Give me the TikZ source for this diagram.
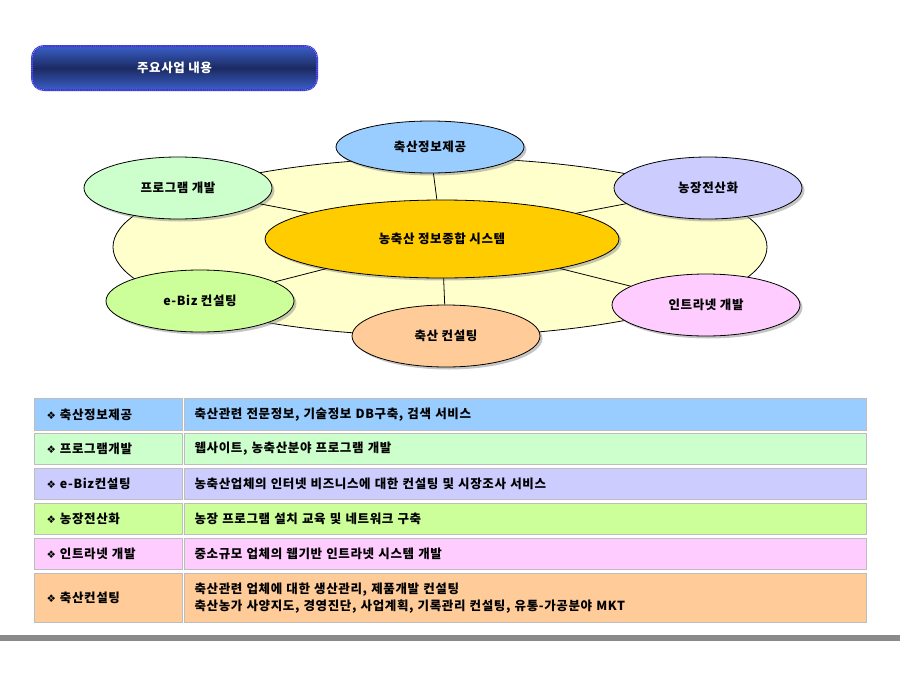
\documentclass[tikz,border=0pt]{standalone}
\usepackage{fontspec}
\setmainfont{Noto Sans CJK KR}[LetterSpace=5]
\newfontfamily\symfont{DejaVu Sans}
\usepackage{tikz}
\usetikzlibrary{shapes.geometric,shadows}

\definecolor{cblue}{HTML}{99CCFF}
\definecolor{cgreen}{HTML}{CCFFCC}
\definecolor{clav}{HTML}{CCCCFF}
\definecolor{clime}{HTML}{CCFF99}
\definecolor{cpink}{HTML}{FFCCFF}
\definecolor{cpeach}{HTML}{FFCC99}
\definecolor{cgold}{HTML}{FFCC00}
\definecolor{ccream}{HTML}{FFFFCC}
\definecolor{tbtop}{HTML}{3A5FC8}
\definecolor{tbmid}{HTML}{1B2A62}
\definecolor{tbedge}{HTML}{3333CC}
\definecolor{tbdot}{HTML}{8C8CFF}
\definecolor{cellline}{HTML}{BDBDBD}
\definecolor{barline}{HTML}{8A8A8A}

\tikzset{
  oval/.style={ellipse, draw=black, line width=0.8pt, inner sep=0pt,
    minimum width=188pt, minimum height=62pt,
    drop shadow={shadow xshift=2.5pt, shadow yshift=-2.5pt, fill=black!45},
    font=\fontsize{12.5}{14}\selectfont\bfseries},
  lcell/.style={rectangle, draw=cellline, line width=1pt, anchor=north west,
    inner xsep=12pt, text width=124pt, align=left,
    font=\fontsize{12.5}{14}\selectfont\bfseries},
  rcell/.style={rectangle, draw=cellline, line width=1pt, anchor=north west,
    inner xsep=10pt, text width=662pt, align=left,
    font=\fontsize{12.5}{17}\selectfont\bfseries},
}
\newcommand{\dia}{{\symfont\fontsize{10.5}{11}\selectfont ❖}\hspace{4pt}}

\begin{document}
\begin{tikzpicture}[x=1pt,y=-1pt]
\useasboundingbox (0,0) rectangle (900,675);

% title button
\node[rectangle, rounded corners=12pt, minimum width=285pt, minimum height=44pt,
  draw=tbedge, line width=2pt, top color=tbtop, bottom color=tbtop, middle color=tbmid,
  postaction={draw=tbdot, densely dotted, line width=0.9pt},
  text=white, font=\fontsize{12.5}{14}\selectfont\bfseries] (title) at (174.5,68) {주요사업 내용};

% diagram
\node[ellipse, draw=black, line width=0.8pt, fill=ccream, minimum width=654pt, minimum height=178pt] (big) at (440,247) {};

\node[oval, fill=cgold, minimum width=354pt, minimum height=78pt] (cen) at (442,239) {농축산 정보종합 시스템};
\node[oval, fill=cblue, minimum height=52pt] (info) at (430,147) {축산정보제공};
\node[oval, fill=cgreen] (prog) at (178,188) {프로그램 개발};
\node[oval, fill=clav] (farm) at (708,188) {농장전산화};
\node[oval, fill=clime] (ebiz) at (200,301) {e-Biz 컨설팅};
\node[oval, fill=cpink] (intra) at (706,305) {인트라넷 개발};
\node[oval, fill=cpeach] (cons) at (446,336) {축산 컨설팅};

\draw[line width=0.8pt] (info) -- (cen);
\draw[line width=0.8pt] (cons) -- (cen);
\draw[line width=0.8pt] (prog) -- (cen);
\draw[line width=0.8pt] (farm) -- (cen);
\draw[line width=0.8pt] (ebiz) -- (cen);
\draw[line width=0.8pt] (intra) -- (cen);

% table
\node[lcell, fill=cblue, minimum height=32pt] (l1) at (34,398) {\dia 축산정보제공};
\node[rcell, fill=cblue, minimum height=32pt] (r1) at (184,398) {축산관련 전문정보, 기술정보 DB구축, 검색 서비스};
\node[lcell, fill=cgreen, minimum height=31pt] (l2) at (34,433) {\dia 프로그램개발};
\node[rcell, fill=cgreen, minimum height=31pt] (r2) at (184,433) {웹사이트, 농축산분야 프로그램 개발};
\node[lcell, fill=clav, minimum height=31pt] (l3) at (34,468) {\dia e-Biz컨설팅};
\node[rcell, fill=clav, minimum height=31pt] (r3) at (184,468) {농축산업체의 인터넷 비즈니스에 대한 컨설팅 및 시장조사 서비스};
\node[lcell, fill=clime, minimum height=31pt] (l4) at (34,503) {\dia 농장전산화};
\node[rcell, fill=clime, minimum height=31pt] (r4) at (184,503) {농장 프로그램 설치 교육 및 네트워크 구축};
\node[lcell, fill=cpink, minimum height=31pt] (l5) at (34,538) {\dia 인트라넷 개발};
\node[rcell, fill=cpink, minimum height=31pt] (r5) at (184,538) {중소규모 업체의 웹기반 인트라넷 시스템 개발};
\node[lcell, fill=cpeach, minimum height=49pt] (l6) at (34,573) {\dia 축산컨설팅};
\node[rcell, fill=cpeach, minimum height=49pt] (r6) at (184,573) {축산관련 업체에 대한 생산관리, 제품개발 컨설팅\\축산농가 사양지도, 경영진단, 사업계획, 기록관리 컨설팅, 유통-가공분야 MKT};

% bottom bar
\fill[barline] (0,635) rectangle (900,641);
\end{tikzpicture}
\end{document}
